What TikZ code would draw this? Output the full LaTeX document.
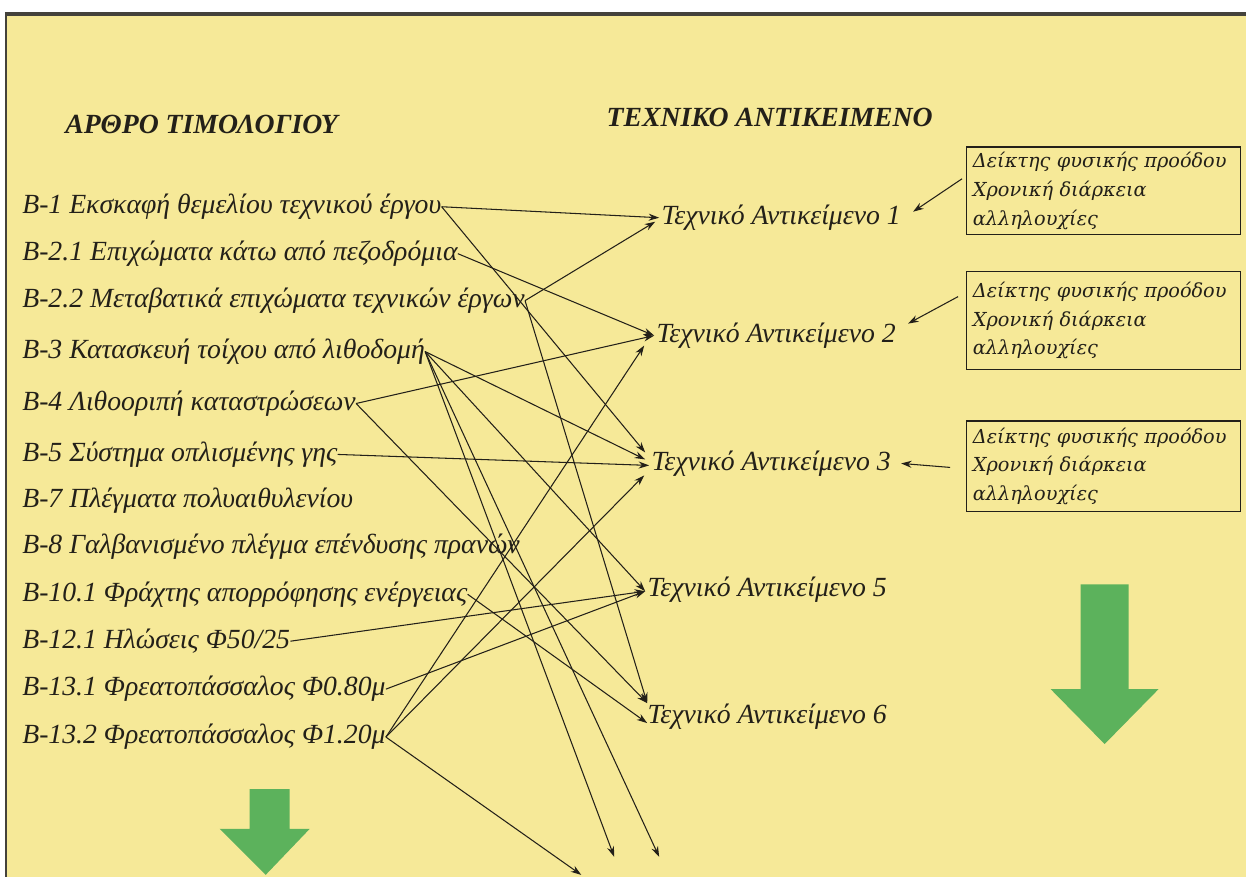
\documentclass[tikz,border=0pt]{standalone}
\usepackage{fontspec}
\setmainfont{Liberation Serif}
\newfontfamily\boxfont{DejaVu Serif}
\usetikzlibrary{arrows.meta,calc}
\definecolor{paper}{RGB}{246,233,152}
\definecolor{ink}{RGB}{35,32,25}
\definecolor{leaf}{RGB}{92,178,92}
\tikzset{
  item/.style={anchor=west,inner sep=0pt,font=\fontsize{15.8}{18}\selectfont\itshape,text=ink},
  target/.style={anchor=west,inner sep=0pt,font=\fontsize{15.8}{18}\selectfont\itshape,text=ink},
  heading/.style={anchor=west,inner sep=0pt,font=\fontsize{15.8}{18}\selectfont\bfseries\itshape,text=ink},
  infobox/.style={draw=ink,line width=0.8pt,inner xsep=3.5pt,inner ysep=3pt,align=left,
    text width=149pt,font=\boxfont\fontsize{11}{16.4}\selectfont\itshape,text=ink},
  link/.style={draw=ink,line width=0.6pt,-{Stealth[length=6pt,width=4pt]}},
  bigarrow/.style={fill=leaf,draw=none}
}
\begin{document}
\begin{tikzpicture}[x=0.02cm,y=-0.02cm]
% page and frame
\fill[white] (0,0) rectangle (1248,878);
\fill[paper] (6,14) rectangle (1248,878);
\draw[ink!85,line width=1.8pt] (5,14) -- (1248,14);
\draw[ink!85,line width=1.2pt] (6,14) -- (6,878);

% column headings
\node[heading] (h1) at (65,125) {ΑΡΘΡΟ ΤΙΜΟΛΟΓΙΟΥ};
\node[heading] (h2) at (607,118) {ΤΕΧΝΙΚΟ ΑΝΤΙΚΕΙΜΕΝΟ};

% price-list articles
\node[item] (b1)  at (22,207) {B-1 Εκσκαφή θεμελίου τεχνικού έργου};
\node[item] (b21) at (22,254) {B-2.1 Επιχώματα κάτω από πεζοδρόμια};
\node[item] (b22) at (22,301) {B-2.2 Μεταβατικά επιχώματα τεχνικών έργων};
\node[item] (b3)  at (22,352) {B-3 Κατασκευή τοίχου από λιθοδομή};
\node[item] (b4)  at (22,404) {B-4 Λιθοοριπή καταστρώσεων};
\node[item] (b5)  at (22,455) {B-5 Σύστημα οπλισμένης γης};
\node[item] (b7)  at (22,501) {B-7 Πλέγματα πολυαιθυλενίου};
\node[item] (b8)  at (22,547) {B-8 Γαλβανισμένο πλέγμα επένδυσης πρανών};
\node[item] (b101) at (22,595) {B-10.1 Φράχτης απορρόφησης ενέργειας};
\node[item] (b121) at (22,642) {B-12.1 Ηλώσεις Φ50/25};
\node[item] (b131) at (22,690) {B-13.1 Φρεατοπάσσαλος Φ0.80μ};
\node[item] (b132) at (22,738) {B-13.2 Φρεατοπάσσαλος Φ1.20μ};

% technical objects
\node[target] (t1) at (662,218) {Τεχνικό Αντικείμενο 1};
\node[target] (t2) at (657,336) {Τεχνικό Αντικείμενο 2};
\node[target] (t3) at (652,464) {Τεχνικό Αντικείμενο 3};
\node[target] (t5) at (648,590) {Τεχνικό Αντικείμενο 5};
\node[target] (t6) at (648,718) {Τεχνικό Αντικείμενο 6};

% arrow ends on the objects
\coordinate (t1a) at ($(t1.west)+(-2,0)$);
\coordinate (t1b) at ($(t1.west)+(-6,4)$);
\coordinate (t2a) at ($(t2.west)+(-2,0)$);
\coordinate (t2b) at ($(t2.west)+(-12,10)$);
\coordinate (t3a) at ($(t3.west)+(-6,-11)$);
\coordinate (t3b) at ($(t3.west)+(-6,-4)$);
\coordinate (t3c) at ($(t3.west)+(-2,2)$);
\coordinate (t3d) at ($(t3.west)+(-7,12)$);
\coordinate (t5a) at ($(t5.west)+(-2,2)$);
\coordinate (t6a) at ($(t6.west)+(0,-14)$);
\coordinate (t6b) at ($(t6.west)+(0,6)$);
% arrows leaving the lower edge
\coordinate (d1) at (582,876);
\coordinate (d2) at (615,858);
\coordinate (d3) at (660,858);

% article to object links
\draw[link] (b1.east) -- (t1a);
\draw[link] (b1.east) -- (t3a);
\draw[link] (b21.east) -- (t2a);
\draw[link] (b22.east) -- (t1b);
\draw[link] (b22.east) -- (t6a);
\draw[link] (b3.east) -- (t3b);
\draw[link] (b3.east) -- (t5a);
\draw[link] (b3.east) -- (d2);
\draw[link] (b3.east) -- (d3);
\draw[link] (b4.east) -- (t2a);
\draw[link] (b4.east) -- (t6a);
\draw[link] (b5.east) -- (t3c);
\draw[link] (b101.east) -- (t6b);
\draw[link] (b121.east) -- (t5a);
\draw[link] (b131.east) -- (t5a);
\draw[link] (b132.east) -- (t2b);
\draw[link] (b132.east) -- (t3d);
\draw[link] (b132.east) -- (d1);

% progress indicator boxes
\node[infobox,minimum height=48.8pt] (r1) at (1105,191) {Δείκτης φυσικής προόδου\\Χρονική διάρκεια\\αλληλουχίες};
\node[infobox,minimum height=56pt] (r2) at (1105,321) {Δείκτης φυσικής προόδου\\Χρονική διάρκεια\\αλληλουχίες};
\node[infobox,minimum height=51.6pt] (r3) at (1105,467) {Δείκτης φυσικής προόδου\\Χρονική διάρκεια\\αλληλουχίες};
\draw[link] ($(r1.west)+(-4,-12)$) -- ($(t1.east)+(12,-6)$);
\draw[link] ($(r2.west)+(-8,-24)$) -- ($(t2.east)+(12,-12)$);
\draw[link] ($(r3.west)+(-16,1)$) -- ($(t3.east)+(10,0)$);

% green downward arrows
\path[bigarrow] (250,790) -- (290,790) -- (290,830) -- (310,830) -- (266,876) -- (220,830) -- (250,830) -- cycle;
\path[bigarrow] (1082,585) -- (1130,585) -- (1130,690) -- (1160,690) -- (1106,745) -- (1052,690) -- (1082,690) -- cycle;
\end{tikzpicture}
\end{document}
